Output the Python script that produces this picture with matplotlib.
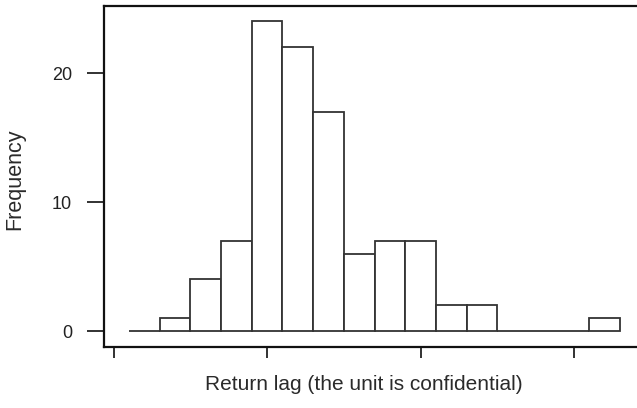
import numpy as np
import matplotlib
matplotlib.use("Agg")
import matplotlib.pyplot as plt

# histogram data (bin edges in confidential units, counts per bin)
bin_edges = np.arange(17)
counts = [0, 1, 4, 7, 24, 22, 17, 6, 7, 7, 2, 2, 0, 0, 0, 1]
y_ticks = [0, 10, 20]
x_ticks = [-0.5, 4.5, 9.5, 14.5]

plt.rcParams["font.family"] = ["Liberation Sans", "DejaVu Sans"]

fig = plt.figure(figsize=(6.37, 4.08), dpi=100)
ax = fig.add_axes([104 / 637, 61 / 408, (640 - 104) / 637, (347 - 6) / 408])

lefts = bin_edges[:-1]
widths = np.diff(bin_edges)
ax.bar(lefts, counts, width=widths, align="edge", facecolor="white",
       edgecolor="#333333", linewidth=1.3)

ax.set_xlim(-0.814, 16.65)
ax.set_ylim(-1.24, 25.2)

ax.set_yticks(y_ticks)
ax.set_xticks(x_ticks)
ax.set_xticklabels([])
ax.tick_params(axis="y", length=12, width=1.3, pad=11, labelsize=13,
               colors="#222222")
ax.tick_params(axis="x", length=8, width=1.3, colors="#222222")

for side in ["left", "bottom", "top"]:
    ax.spines[side].set_linewidth(1.6)
    ax.spines[side].set_color("#111111")
ax.spines["right"].set_visible(False)

fig.text(364 / 637, 1 - 385 / 408, "Return lag (the unit is confidential)",
         ha="center", va="center", fontsize=15, color="#2a2a2a")
fig.text(15 / 637, 1 - 179 / 408, "Frequency", rotation=90,
         ha="center", va="center", fontsize=15.5, color="#2a2a2a")

fig.savefig("out.png", dpi=100)
